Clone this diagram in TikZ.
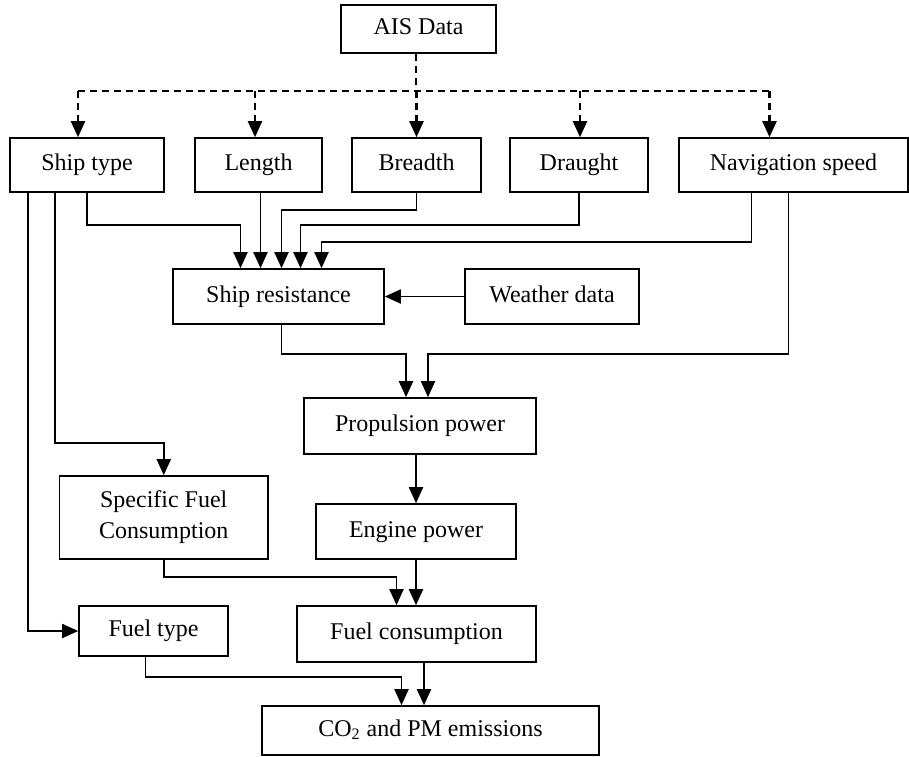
\documentclass[tikz,border=0pt]{standalone}
\usepackage{fontspec}
\setmainfont{Liberation Serif}
\usetikzlibrary{arrows.meta}
\tikzset{
  box/.style={draw, line width=0.8pt, inner sep=0pt, align=center, text height=8.2pt, text depth=2.6pt, font=\fontsize{12}{15.5}\selectfont},
  arr/.style={line width=0.95pt, -{Triangle[length=8pt,width=7pt]}},
  dashline/.style={line width=1.1pt, dash pattern=on 3.5pt off 2.5pt},
  dasharr/.style={dashline, -{Triangle[length=8pt,width=7pt]}},
}

\begin{document}
\begin{tikzpicture}[x=0.5pt, y=-0.5pt]
\useasboundingbox (0,0) rectangle (909,756);
% boxes
\node[box, minimum width=77.5pt, minimum height=24pt] (ais) at (418.5,29) {AIS Data};
\node[box, minimum width=77pt, minimum height=27pt] (type) at (87,165) {Ship type};
\node[box, minimum width=63.5pt, minimum height=27pt] (len) at (258.5,165) {Length};
\node[box, minimum width=64.5pt, minimum height=27pt] (bre) at (416.5,165) {Breadth};
\node[box, minimum width=69pt, minimum height=27pt] (dra) at (579,165) {Draught};
\node[box, minimum width=114.5pt, minimum height=27pt] (nav) at (793.5,165) {Navigation speed};
\node[box, minimum width=105.5pt, minimum height=27.5pt] (res) at (278.5,296.5) {Ship resistance};
\node[box, minimum width=87pt, minimum height=27.5pt] (wea) at (552,296.5) {Weather data};
\node[box, minimum width=116pt, minimum height=28pt] (pro) at (420,426) {Propulsion power};
\node[box, minimum width=104.25pt, minimum height=41.5pt, text height=23.7pt] (sfc) at (163.75,517.5) {Specific Fuel\\Consumption};
\node[box, minimum width=100pt, minimum height=27.5pt] (eng) at (416,531.5) {Engine power};
\node[box, minimum width=74.5pt, minimum height=25pt] (fty) at (153.5,631) {Fuel type};
\node[box, minimum width=119.5pt, minimum height=28pt] (fco) at (416.5,634) {Fuel consumption};
\node[box, minimum width=168.5pt, minimum height=24.5pt] (co2) at (430.5,730.5) {CO\textsubscript{2} and PM emissions};

% AIS data split
\coordinate (bus) at (416,91);
\draw[dashline] ([xshift=-1.25pt]ais.south) -- (bus);
\draw[dashline] ([xshift=-4.5pt]type.north |- bus) -- ([xshift=-12pt]nav.north |- bus);
\draw[dasharr] ([xshift=-4.5pt]type.north |- bus) -- ([xshift=-4.5pt]type.north);
\draw[dasharr] ([xshift=-1.75pt]len.north |- bus) -- ([xshift=-1.75pt]len.north);
\draw[dasharr] (bre.north |- bus) -- (bre.north);
\draw[dasharr] ([xshift=0.5pt]dra.north |- bus) -- ([xshift=0.5pt]dra.north);
\draw[dasharr] ([xshift=-12pt]nav.north |- bus) -- ([xshift=-12pt]nav.north);

% into ship resistance
\draw[arr] (type.south) -- ++(0,32) -| ([xshift=-19pt]res.north);
\draw[arr] ([xshift=1pt]len.south) -- ([xshift=-9pt]res.north);
\draw[arr] (bre.south) -- ++(0,17) -| ([xshift=1.5pt]res.north);
\draw[arr] (dra.south) -- ++(0,32) -| ([xshift=11pt]res.north);
\draw[arr] ([xshift=-21pt]nav.south) -- ++(0,49) -| ([xshift=21.5pt]res.north);
\draw[arr] (wea.west) -- (res.east);

% power chain
\draw[arr] ([xshift=1.5pt]res.south) -- ++(0,29) -| ([xshift=-7pt]pro.north);
\draw[arr] ([xshift=-2.5pt]nav.south) -- ++(0,161) -| ([xshift=4pt]pro.north);
\draw[arr] (eng.north |- pro.south) -- (eng.north);
\draw[arr] ([xshift=-16pt]type.south) -- ++(0,250) -| (sfc.north);
\draw[arr] ([xshift=-29.5pt]type.south) |- (fty.west);
\draw[arr] (sfc.south) -- ++(0,17) -| ([xshift=-10pt]fco.north);
\draw[arr] (eng.south) -- (eng.south |- fco.north);
\draw[arr] ([xshift=-4pt]fty.south) -- ++(0,20) -| ([xshift=-14.5pt]co2.north);
\draw[arr] ([xshift=3.75pt]fco.south) -- ([xshift=3.75pt]fco.south |- co2.north);
\end{tikzpicture}
\end{document}
